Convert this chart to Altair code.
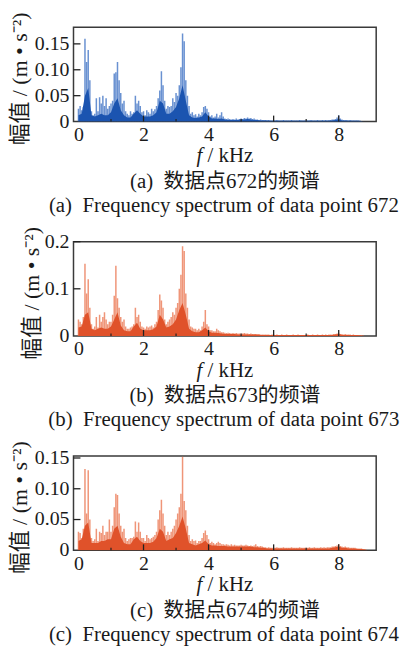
import altair as alt
import pandas as pd

SERIF = "Liberation Serif"
MIXED = "Liberation Serif, Noto Sans CJK SC"
YTITLE = "幅值 / (m • s⁻²)"

X_LABELS = [0, 2, 4, 6, 8]
X_MINOR = [1, 3, 5, 7]
Y1_TICKS, Y1_LABELS = [0, 0.05, 0.10, 0.15], ["0", "0.05", "0.10", "0.15"]
Y2_TICKS, Y2_LABELS = [0, 0.1, 0.2], ["0", "0.1", "0.2"]
Y3_TICKS, Y3_LABELS = [0, 0.05, 0.10, 0.15], ["0", "0.05", "0.10", "0.15"]

# spectrum envelopes sampled every 0.05 kHz (spikes) and every 0.1 kHz (dense core)
p1_spikes = [
    0.025, 0.030, 0.022, 0.028, 0.160, 0.115, 0.138, 0.080, 0.020, 0.012, 0.015, 0.045, 0.020, 0.047, 0.035, 0.050, 0.030, 0.045, 0.025, 0.030,
    0.035, 0.040, 0.093, 0.095, 0.115, 0.080, 0.055, 0.035, 0.040, 0.020, 0.015, 0.012, 0.020, 0.015, 0.018, 0.050, 0.035, 0.040, 0.030, 0.018,
    0.020, 0.012, 0.022, 0.018, 0.015, 0.025, 0.020, 0.024, 0.030, 0.045, 0.060, 0.097, 0.070, 0.040, 0.025, 0.030, 0.028, 0.030, 0.045, 0.038,
    0.055, 0.050, 0.070, 0.105, 0.170, 0.155, 0.080, 0.050, 0.030, 0.015, 0.018, 0.012, 0.014, 0.010, 0.015, 0.012, 0.018, 0.028, 0.030, 0.025,
    0.018, 0.010, 0.012, 0.008, 0.010, 0.015, 0.008, 0.012, 0.018, 0.010, 0.006, 0.005, 0.006, 0.005, 0.004, 0.005, 0.004, 0.006, 0.004, 0.005,
    0.006, 0.005, 0.007, 0.006, 0.008, 0.006, 0.007, 0.005, 0.006, 0.004, 0.004, 0.003, 0.004, 0.003, 0.003, 0.003, 0.002, 0.003, 0.002, 0.002,
    0.002, 0.002, 0.003, 0.002, 0.002, 0.002, 0.003, 0.002, 0.002, 0.002, 0.002, 0.003, 0.002, 0.002, 0.002, 0.002, 0.003, 0.002, 0.002, 0.002,
    0.002, 0.002, 0.002, 0.003, 0.002, 0.002, 0.002, 0.003, 0.002, 0.002, 0.003, 0.002, 0.003, 0.002, 0.003, 0.003, 0.004, 0.004, 0.005, 0.008,
    0.012, 0.006, 0.004, 0.003, 0.003, 0.003, 0.002, 0.003, 0.002, 0.002, 0.002, 0.002, 0.002, 0.002, 0.001, 0.000, 0.000, 0.000, 0.000, 0.000,
]
p1_core = [
    0.012, 0.015, 0.050, 0.065, 0.012, 0.010, 0.012, 0.015, 0.012, 0.012,
    0.018, 0.035, 0.045, 0.022, 0.012, 0.008, 0.008, 0.015, 0.022, 0.015,
    0.010, 0.010, 0.010, 0.012, 0.018, 0.040, 0.035, 0.015, 0.015, 0.020,
    0.028, 0.045, 0.070, 0.040, 0.012, 0.008, 0.007, 0.008, 0.010, 0.018,
    0.010, 0.006, 0.006, 0.005, 0.006, 0.004, 0.003, 0.003, 0.003, 0.003,
    0.004, 0.004, 0.005, 0.004, 0.003, 0.003, 0.002, 0.002, 0.002, 0.0015,
    0.0015, 0.0015, 0.0015, 0.0015, 0.0015, 0.0015, 0.0015, 0.0015, 0.0015, 0.0015,
    0.0015, 0.0015, 0.0015, 0.0015, 0.0015, 0.0015, 0.0015, 0.0015, 0.002, 0.003,
    0.005, 0.002, 0.0015, 0.0015, 0.0015, 0.0015, 0.0015, 0.0005, 0.0, 0.0,
]

p2_spikes = [
    0.035, 0.030, 0.025, 0.040, 0.153, 0.090, 0.120, 0.060, 0.025, 0.015, 0.020, 0.040, 0.018, 0.045, 0.030, 0.040, 0.050, 0.035, 0.025, 0.030,
    0.030, 0.045, 0.085, 0.149, 0.080, 0.060, 0.040, 0.030, 0.035, 0.020, 0.015, 0.015, 0.018, 0.020, 0.025, 0.060, 0.040, 0.045, 0.030, 0.020,
    0.018, 0.015, 0.020, 0.018, 0.020, 0.022, 0.018, 0.025, 0.030, 0.055, 0.088, 0.075, 0.060, 0.035, 0.025, 0.030, 0.035, 0.040, 0.050, 0.045,
    0.060, 0.070, 0.100, 0.130, 0.190, 0.180, 0.090, 0.060, 0.035, 0.020, 0.018, 0.015, 0.015, 0.012, 0.015, 0.012, 0.020, 0.030, 0.055, 0.025,
    0.020, 0.012, 0.012, 0.010, 0.010, 0.015, 0.012, 0.010, 0.008, 0.008, 0.007, 0.006, 0.007, 0.006, 0.005, 0.006, 0.005, 0.006, 0.005, 0.005,
    0.005, 0.005, 0.006, 0.005, 0.005, 0.004, 0.005, 0.004, 0.004, 0.004, 0.003, 0.004, 0.003, 0.003, 0.003, 0.003, 0.003, 0.003, 0.002, 0.003,
    0.003, 0.002, 0.003, 0.002, 0.002, 0.003, 0.002, 0.002, 0.003, 0.002, 0.002, 0.002, 0.003, 0.002, 0.002, 0.003, 0.002, 0.002, 0.002, 0.002,
    0.002, 0.003, 0.002, 0.002, 0.003, 0.002, 0.002, 0.003, 0.002, 0.002, 0.003, 0.002, 0.003, 0.002, 0.003, 0.003, 0.003, 0.004, 0.004, 0.005,
    0.007, 0.004, 0.004, 0.003, 0.004, 0.003, 0.003, 0.003, 0.002, 0.003, 0.002, 0.002, 0.002, 0.002, 0.002, 0.001, 0.000, 0.000, 0.000, 0.000,
]
p2_core = [
    0.018, 0.020, 0.045, 0.050, 0.015, 0.012, 0.015, 0.018, 0.015, 0.015,
    0.020, 0.035, 0.050, 0.022, 0.012, 0.010, 0.010, 0.020, 0.028, 0.015,
    0.012, 0.012, 0.012, 0.014, 0.020, 0.045, 0.035, 0.018, 0.020, 0.025,
    0.035, 0.055, 0.070, 0.045, 0.015, 0.010, 0.008, 0.008, 0.012, 0.018,
    0.010, 0.007, 0.007, 0.006, 0.005, 0.004, 0.004, 0.004, 0.004, 0.003,
    0.003, 0.003, 0.003, 0.003, 0.003, 0.003, 0.002, 0.002, 0.002, 0.002,
    0.002, 0.002, 0.002, 0.002, 0.002, 0.002, 0.002, 0.002, 0.002, 0.002,
    0.002, 0.002, 0.002, 0.002, 0.002, 0.002, 0.002, 0.002, 0.002, 0.003,
    0.004, 0.002, 0.002, 0.002, 0.002, 0.002, 0.0015, 0.0005, 0.0, 0.0,
]

p3_spikes = [
    0.030, 0.028, 0.020, 0.035, 0.132, 0.060, 0.130, 0.050, 0.020, 0.015, 0.018, 0.035, 0.015, 0.030, 0.028, 0.040, 0.025, 0.030, 0.030, 0.050,
    0.030, 0.040, 0.070, 0.092, 0.090, 0.060, 0.040, 0.030, 0.035, 0.020, 0.015, 0.018, 0.020, 0.020, 0.022, 0.047, 0.030, 0.045, 0.030, 0.020,
    0.020, 0.015, 0.025, 0.020, 0.018, 0.020, 0.022, 0.025, 0.030, 0.050, 0.065, 0.082, 0.060, 0.040, 0.025, 0.030, 0.025, 0.030, 0.035, 0.040,
    0.050, 0.060, 0.070, 0.092, 0.152, 0.080, 0.065, 0.040, 0.025, 0.015, 0.018, 0.015, 0.016, 0.012, 0.015, 0.015, 0.020, 0.028, 0.032, 0.025,
    0.018, 0.012, 0.014, 0.012, 0.010, 0.012, 0.014, 0.012, 0.010, 0.010, 0.009, 0.010, 0.009, 0.008, 0.010, 0.008, 0.009, 0.008, 0.008, 0.008,
    0.009, 0.008, 0.008, 0.009, 0.008, 0.007, 0.008, 0.007, 0.008, 0.010, 0.007, 0.006, 0.007, 0.006, 0.005, 0.005, 0.004, 0.005, 0.004, 0.004,
    0.004, 0.004, 0.005, 0.004, 0.004, 0.004, 0.005, 0.004, 0.004, 0.004, 0.004, 0.005, 0.004, 0.004, 0.004, 0.004, 0.005, 0.004, 0.004, 0.004,
    0.004, 0.004, 0.005, 0.004, 0.004, 0.005, 0.004, 0.004, 0.004, 0.005, 0.004, 0.005, 0.004, 0.005, 0.005, 0.005, 0.006, 0.006, 0.007, 0.008,
    0.010, 0.007, 0.006, 0.005, 0.006, 0.005, 0.005, 0.004, 0.004, 0.004, 0.004, 0.003, 0.003, 0.003, 0.003, 0.002, 0.002, 0.001, 0.000, 0.000,
]
p3_core = [
    0.015, 0.018, 0.040, 0.045, 0.012, 0.012, 0.012, 0.015, 0.015, 0.018,
    0.018, 0.035, 0.040, 0.022, 0.012, 0.010, 0.010, 0.018, 0.022, 0.015,
    0.012, 0.012, 0.012, 0.014, 0.020, 0.035, 0.030, 0.015, 0.018, 0.020,
    0.028, 0.040, 0.055, 0.035, 0.012, 0.010, 0.008, 0.010, 0.012, 0.016,
    0.010, 0.008, 0.008, 0.007, 0.007, 0.007, 0.006, 0.006, 0.006, 0.006,
    0.006, 0.006, 0.006, 0.006, 0.005, 0.005, 0.004, 0.004, 0.003, 0.003,
    0.003, 0.003, 0.003, 0.003, 0.003, 0.003, 0.003, 0.003, 0.003, 0.003,
    0.003, 0.003, 0.003, 0.003, 0.003, 0.003, 0.003, 0.003, 0.004, 0.005,
    0.006, 0.004, 0.004, 0.003, 0.003, 0.003, 0.002, 0.002, 0.001, 0.0,
]

captions_cn = ["(a)\u2002数据点672的频谱", "(b)\u2002数据点673的频谱", "(c)\u2002数据点674的频谱"]
captions_en = ["(a)\u2002Frequency spectrum of data point 672",
               "(b)\u2002Frequency spectrum of data point 673",
               "(c)\u2002Frequency spectrum of data point 674"]

W, H = 305, 95
BLUE_DARK, BLUE_LIGHT = "#1b54b0", "#2a62bd"
ORG_DARK, ORG_LIGHT = "#e0522a", "#e8683e"
INK = "#1a1a1a"


def text_layer(txt, x, y, align="center", style="normal", font=SERIF, size=20):
    return alt.Chart(pd.DataFrame({"t": [txt]})).mark_text(
        font=font, fontSize=size, fontStyle=style, align=align, baseline="middle", color=INK
    ).encode(text="t:N", x=alt.value(x), y=alt.value(y))


def panel(spikes, core, ymax, yticks, ylabels, title_pad, dark, light, idx):
    df_s = pd.DataFrame({"f": [round(i * 0.05, 2) for i in range(len(spikes))], "v": spikes})
    df_c = pd.DataFrame({"f": [round(i * 0.1, 1) for i in range(len(core))], "v": core})
    df_y = pd.DataFrame({"v": yticks, "lab": ylabels})
    xs = alt.Scale(domain=[0, 9], nice=False, zero=False)
    ys = alt.Scale(domain=[0, ymax], nice=False)
    xaxis = alt.Axis(values=X_LABELS, title=None, ticks=False, domain=False, grid=False,
                     labelFont=SERIF, labelFontSize=20, labelColor=INK, labelPadding=3,
                     labelFlush=False, labelOverlap=False)
    yaxis = alt.Axis(title=YTITLE, labels=False, ticks=False, tickSize=0, domain=False, grid=False,
                     titleFont=MIXED, titleFontSize=22, titleFontWeight="normal",
                     titleColor=INK, titlePadding=title_pad, titleY=H / 2 + 4)
    spk = alt.Chart(df_s).mark_bar(width=1.5, color=light, opacity=0.7, clip=True).encode(
        x=alt.X("f:Q", scale=xs, axis=xaxis), y=alt.Y("v:Q", scale=ys, axis=yaxis))
    cor = alt.Chart(df_c).mark_area(color=dark, clip=True).encode(
        x=alt.X("f:Q", scale=xs), y=alt.Y("v:Q", scale=ys))
    xt_major = alt.Chart(pd.DataFrame({"f": X_LABELS[1:]})).mark_rule(color="#222", strokeWidth=1.3).encode(
        x=alt.X("f:Q", scale=xs), y=alt.value(H), y2=alt.value(H - 6))
    xt_minor = alt.Chart(pd.DataFrame({"f": X_MINOR})).mark_rule(color="#222", strokeWidth=1.2).encode(
        x=alt.X("f:Q", scale=xs), y=alt.value(H), y2=alt.value(H - 2.5))
    yt = alt.Chart(df_y).transform_filter("datum.v > 0").mark_rule(color="#222", strokeWidth=1.3).encode(
        y=alt.Y("v:Q", scale=ys), x=alt.value(0), x2=alt.value(7))
    ylab = alt.Chart(df_y).mark_text(font=SERIF, fontSize=20, align="right", baseline="middle",
                                     color=INK, dx=-4).encode(
        y=alt.Y("v:Q", scale=ys), x=alt.value(0), text="lab:N")
    fx = text_layer("f", 124, H + 35, align="left", style="italic", size=21)
    fu = text_layer("/ kHz", 135, H + 35, align="left", size=21)
    cn = text_layer(captions_cn[idx], W / 2, H + 61, font=MIXED, size=21)
    en = text_layer(captions_en[idx], W / 2 - 1, H + 85, size=21)
    return alt.layer(spk, cor, xt_major, xt_minor, yt, ylab, fx, fu, cn, en).properties(width=W, height=H)


c1 = panel(p1_spikes, p1_core, 0.182, Y1_TICKS, Y1_LABELS, 42, BLUE_DARK, BLUE_LIGHT, 0)
c2 = panel(p2_spikes, p2_core, 0.2, Y2_TICKS, Y2_LABELS, 30, ORG_DARK, ORG_LIGHT, 1)
c3 = panel(p3_spikes, p3_core, 0.1532, Y3_TICKS, Y3_LABELS, 42, ORG_DARK, ORG_LIGHT, 2)

chart = alt.vconcat(c1, c2, c3, spacing=121, bounds="flush").configure_view(
    stroke="#3a3a3a", strokeWidth=1.5
).properties(padding={"left": 0, "top": 0, "right": 0, "bottom": 0})

chart.save("out.html", embed_options={"renderer": "svg", "actions": False})
